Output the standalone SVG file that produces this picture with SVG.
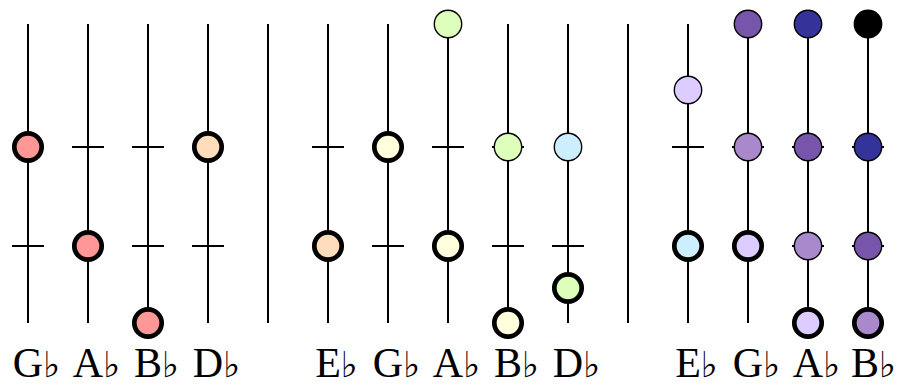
<svg xmlns="http://www.w3.org/2000/svg" width="898" height="385" viewBox="0 0 898 385">
<style>
.s{stroke:#000;stroke-width:2;fill:none}
.t{stroke:#000;stroke-width:2}
.k{stroke:#000;stroke-width:4.7}
.n{stroke:#000;stroke-width:1.4}
.l{font-family:"Liberation Serif","DejaVu Serif",serif;font-size:42px;fill:#000}
.f{font-family:"DejaVu Sans",sans-serif;font-size:36px}
</style>
<rect width="898" height="385" fill="#fff"/>
<g id="connectors">
<path class="s" d="M28 24V323M88 24V323M148 24V323M208 24V323M268 24V323M328 24V323M388 24V323M448 24V323M508 24V323M568 24V323M628 24V323M688 24V323M748 24V323M808 24V323M868 24V323"/>
<path class="t" d="M12 246H44M72 147H104M132 147H164M132 246H164M192 246H224M312 147H344M372 246H404M432 147H464M492 147H524M492 246H524M552 246H584M672 147H704M732 147H764M792 147H824M852 147H884M792 246H824M852 246H884"/>
</g>
<g id="n1"><circle class="k" cx="28" cy="147" r="13.7" fill="#ff9797"/></g>
<g id="n2"><circle class="k" cx="88" cy="246" r="13.7" fill="#ff9797"/></g>
<g id="n3"><circle class="k" cx="148" cy="323" r="13.7" fill="#ff9797"/></g>
<g id="n4"><circle class="k" cx="208" cy="147" r="13.7" fill="#ffdcbb"/></g>
<g id="n5"><circle class="k" cx="328" cy="246" r="13.7" fill="#ffdcbb"/></g>
<g id="n6"><circle class="k" cx="388" cy="147" r="13.7" fill="#ffffdd"/></g>
<g id="n7"><circle class="n" cx="448" cy="24" r="13.7" fill="#ddffbb"/></g>
<g id="n8"><circle class="k" cx="448" cy="246" r="13.7" fill="#ffffdd"/></g>
<g id="n9"><circle class="n" cx="508" cy="147" r="13.7" fill="#ddffbb"/></g>
<g id="n10"><circle class="k" cx="508" cy="323" r="13.7" fill="#ffffdd"/></g>
<g id="n11"><circle class="n" cx="568" cy="147" r="13.7" fill="#cceeff"/></g>
<g id="n12"><circle class="k" cx="568" cy="288" r="13.7" fill="#ddffbb"/></g>
<g id="n13"><circle class="n" cx="688" cy="90" r="13.7" fill="#ddccff"/></g>
<g id="n14"><circle class="k" cx="688" cy="246" r="13.7" fill="#cceeff"/></g>
<g id="n15"><circle class="n" cx="748" cy="24" r="13.7" fill="#7755aa"/></g>
<g id="n16"><circle class="n" cx="748" cy="147" r="13.7" fill="#aa88cc"/></g>
<g id="n17"><circle class="k" cx="748" cy="246" r="13.7" fill="#ddccff"/></g>
<g id="n18"><circle class="n" cx="808" cy="24" r="13.7" fill="#333399"/></g>
<g id="n19"><circle class="n" cx="808" cy="147" r="13.7" fill="#7755aa"/></g>
<g id="n20"><circle class="n" cx="808" cy="246" r="13.7" fill="#aa88cc"/></g>
<g id="n21"><circle class="k" cx="808" cy="323" r="13.7" fill="#ddccff"/></g>
<g id="n22"><circle class="n" cx="868" cy="24" r="13.7" fill="#000"/></g>
<g id="n23"><circle class="n" cx="868" cy="147" r="13.7" fill="#333399"/></g>
<g id="n24"><circle class="n" cx="868" cy="246" r="13.7" fill="#7755aa"/></g>
<g id="n25"><circle class="k" cx="868" cy="323" r="13.7" fill="#aa88cc"/></g>
<g id="labels" class="l">
<text x="12.8" y="377">G<tspan class="f">♭</tspan></text>
<text x="72.8" y="377">A<tspan class="f">♭</tspan></text>
<text x="134" y="377">B<tspan class="f">♭</tspan></text>
<text x="192.8" y="377">D<tspan class="f">♭</tspan></text>
<text x="315.2" y="377">E<tspan class="f">♭</tspan></text>
<text x="372.8" y="377">G<tspan class="f">♭</tspan></text>
<text x="432.8" y="377">A<tspan class="f">♭</tspan></text>
<text x="494" y="377">B<tspan class="f">♭</tspan></text>
<text x="552.8" y="377">D<tspan class="f">♭</tspan></text>
<text x="675.2" y="377">E<tspan class="f">♭</tspan></text>
<text x="732.8" y="377">G<tspan class="f">♭</tspan></text>
<text x="792.8" y="377">A<tspan class="f">♭</tspan></text>
<text x="851" y="377">B<tspan class="f">♭</tspan></text>
</g>
</svg>
